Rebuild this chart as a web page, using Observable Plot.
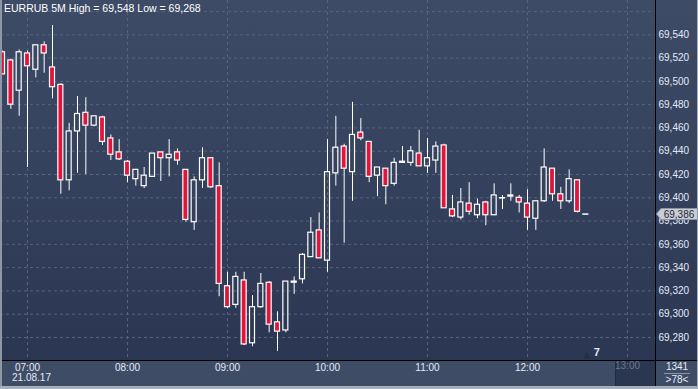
<!DOCTYPE html>
<html><head><meta charset="utf-8">
<script src="https://cdn.jsdelivr.net/npm/d3@7"></script>
<script src="https://cdn.jsdelivr.net/npm/@observablehq/plot@0.6"></script>
<style>
html,body{margin:0;padding:0;background:#2c3853;}
#wrap{position:relative;width:698px;height:389px;overflow:hidden;font-family:"Liberation Sans",Arial,sans-serif;}
.abs{position:absolute;}
</style></head>
<body>
<div id="wrap">
  <div class="abs" style="left:0;top:0;width:698px;height:360px;background:linear-gradient(#3e4b67,#2b3752);"></div>
  <div class="abs" style="left:0;top:361px;width:698px;height:25px;background:#3e4c66;"></div>
  <div class="abs" style="left:615px;top:361px;width:40px;height:25px;background:#2b3651;border-left:1px solid #1f2940;"></div>
  <div id="chart" class="abs" style="left:0;top:0;"></div>
  <div class="abs" style="left:0;top:360px;width:698px;height:1px;background:#000;"></div>
  <div class="abs" style="left:655px;top:0;width:1px;height:386px;background:#000;"></div>
  <div class="abs" style="left:0;top:0;width:2px;height:389px;background:#8f97a4;"></div>
  <div class="abs" style="left:697px;top:0;width:1px;height:389px;background:#a7afbb;"></div>
  <div class="abs" style="left:0;top:386px;width:698px;height:3px;background:#a7afbb;"></div>
  <div class="abs" style="left:4px;top:2px;font-size:10.5px;line-height:12px;color:#ffffff;white-space:nowrap;">EURRUB 5M High = 69,548 Low = 69,268</div>
  <div class="abs" style="left:656px;top:361px;width:42px;text-align:center;font-size:10px;line-height:12px;color:#e6ecf7;">1341</div>
  <div class="abs" style="left:664px;top:373px;width:26px;height:1px;background:#8a94a8;"></div>
  <div class="abs" style="left:656px;top:374px;width:42px;text-align:center;font-size:10px;line-height:12px;color:#e6ecf7;">&gt;78&lt;</div>
  <div id="marker" class="abs"></div>
</div>
<script>
// candles: 5-minute EURRUB, first candle 06:45
const startTime = Date.UTC(2017, 7, 21, 6, 45);
const opens  = [69.525,69.518,69.492,69.524,69.510,69.531,69.512,69.497,69.415,69.457,69.473,69.462,69.469,69.451,69.439,69.431,69.416,69.410,69.418,69.439,69.434,69.439,69.424,69.379,69.415,69.434,69.410,69.324,69.308,69.329,69.275,69.306,69.327,69.293,69.286,69.327,69.330,69.349,69.372,69.346,69.421,69.444,69.422,69.456,69.448,69.419,69.425,69.412,69.430,69.430,69.438,69.427,69.432,69.445,69.390,69.383,69.395,69.385,69.396,69.385,69.400,69.401,69.400,69.395,69.382,69.397,69.425,69.403,69.397,69.415,69.386];
const highs  = [69.526,69.519,69.527,69.526,69.531,69.534,69.548,69.498,69.464,69.487,69.486,69.470,69.470,69.454,69.450,69.432,69.424,69.426,69.438,69.439,69.450,69.442,69.424,69.418,69.443,69.434,69.430,69.336,69.336,69.336,69.316,69.335,69.328,69.302,69.328,69.332,69.352,69.383,69.387,69.450,69.470,69.446,69.482,69.468,69.448,69.426,69.425,69.434,69.444,69.444,69.458,69.451,69.448,69.446,69.402,69.408,69.413,69.399,69.397,69.412,69.402,69.412,69.402,69.407,69.397,69.442,69.425,69.409,69.424,69.415,69.386];
const lows   = [69.506,69.476,69.470,69.426,69.503,69.507,69.485,69.403,69.406,69.421,69.420,69.461,69.445,69.432,69.432,69.413,69.410,69.408,69.418,69.414,69.418,69.428,69.379,69.372,69.408,69.408,69.315,69.305,69.305,69.273,69.272,69.305,69.284,69.268,69.284,69.317,69.326,69.349,69.348,69.336,69.410,69.361,69.397,69.449,69.413,69.401,69.394,69.410,69.430,69.427,69.427,69.421,69.421,69.391,69.383,69.381,69.385,69.382,69.376,69.385,69.390,69.397,69.387,69.372,69.372,69.396,69.397,69.390,69.395,69.387,69.386];
const closes = [69.506,69.480,69.525,69.513,69.531,69.524,69.495,69.415,69.457,69.472,69.462,69.470,69.448,69.437,69.433,69.419,69.424,69.419,69.438,69.434,69.437,69.432,69.381,69.415,69.434,69.409,69.326,69.306,69.332,69.274,69.306,69.326,69.291,69.285,69.328,69.328,69.351,69.370,69.348,69.422,69.443,69.425,69.454,69.451,69.418,69.426,69.410,69.430,69.431,69.440,69.427,69.434,69.444,69.391,69.384,69.396,69.388,69.394,69.385,69.402,69.400,69.402,69.396,69.383,69.397,69.426,69.403,69.397,69.416,69.388,69.386];
const yTickValues = [69.28,69.30,69.32,69.34,69.36,69.38,69.40,69.42,69.44,69.46,69.48,69.50,69.52,69.54];
const yGridValues = [69.28,69.30,69.32,69.34,69.36,69.38,69.40,69.42,69.44,69.46,69.48,69.50,69.52,69.54,69.56];
const hourLabels = ["07:00","08:00","09:00","10:00","11:00","12:00"];
const dateLabel = "21.08.17";
const lastPrice = 69.386;

const fmtPrice = v => d3.format(".3f")(v).replace(".", ",");
const data = opens.map((o, i) => ({
  t: new Date(startTime + i * 5 * 60000),
  o, h: highs[i], l: lows[i], c: closes[i]
}));
const bodies = data.filter(d => d.o !== d.c);
const dojis = data.filter(d => d.o === d.c);
const hours = d3.range(7, 14).map(h => new Date(Date.UTC(2017, 7, 21, h, 0)));
const half = 90000;
const gridColor = "#56637f";

const chart = Plot.plot({
  width: 698, height: 389,
  marginLeft: 0, marginRight: 43, marginTop: 0, marginBottom: 29,
  style: {background: "transparent", fontFamily: "Liberation Sans, Arial, sans-serif", fontSize: "10px", color: "#e3eaf7", overflow: "visible"},
  x: {type: "utc", domain: [new Date(Date.UTC(2017,7,21,6,43,48)), new Date(Date.UTC(2017,7,21,13,16,48))]},
  y: {domain: [69.2602, 69.5695]},
  marks: [
    Plot.gridY(yGridValues, {stroke: gridColor, strokeOpacity: 1, strokeDasharray: "3,3"}),
    Plot.gridX(hours, {stroke: gridColor, strokeOpacity: 1, strokeDasharray: "3,3"}),
    Plot.axisY(yTickValues, {anchor: "right", tickSize: 0, tickPadding: 3, tickFormat: fmtPrice, label: null, fill: "#e3eaf7"}),
    Plot.axisX(hours.slice(0, 6), {anchor: "bottom", tickSize: 0, tickPadding: 3, tickFormat: (d, i) => hourLabels[i], label: null, fill: "#e3eaf7"}),
    Plot.text([hours[0]], {x: d => d, frameAnchor: "bottom", dy: 20, dx: 4, text: () => dateLabel, fill: "#e3eaf7"}),
    Plot.text([hours[6]], {x: d => d, frameAnchor: "bottom", dy: 8, text: () => "13:00", fill: "#6b7791"}),
    Plot.ruleX(data, {x: "t", y1: d => Math.max(d.o, d.c), y2: "h", stroke: "#ffffff", strokeWidth: 1}),
    Plot.ruleX(data, {x: "t", y1: "l", y2: d => Math.min(d.o, d.c), stroke: "#ffffff", strokeWidth: 1}),
    Plot.rect(bodies, {
      x1: d => new Date(+d.t - half), x2: d => new Date(+d.t + half),
      y1: "o", y2: "c",
      fill: d => d.c < d.o ? "#e2143c" : "none",
      stroke: "#ffffff", strokeWidth: 1.2
    }),
    Plot.ruleY(dojis, {y: "c", x1: d => new Date(+d.t - half - 20000), x2: d => new Date(+d.t + half + 20000), stroke: "#ffffff", strokeWidth: 1.5}),
    Plot.text([data[data.length - 1]], {x: "t", frameAnchor: "bottom", dy: -5, dx: 11, text: () => "7", fill: "#e3eaf7", fontSize: 11, fontWeight: "bold"}),
    Plot.dot([data[data.length - 1]], {x: "t", frameAnchor: "bottom", dy: -4, dx: 1, symbol: "triangle", r: 2.5, fill: "#242d42", stroke: "none"})
  ]
});
document.getElementById("chart").appendChild(chart);

const yPix = chart.scale("y").apply(lastPrice);
const m = document.getElementById("marker");
m.style.left = "656px";
m.style.top = (yPix - 6) + "px";
m.innerHTML = `<svg width="42" height="12" style="display:block"><path d="M0.5,6 L5,0.5 L41.5,0.5 L41.5,11.5 L5,11.5 Z" fill="#c9cdd5" stroke="#8f96a3"/><text x="23" y="9.5" text-anchor="middle" font-size="10" font-family="Liberation Sans, Arial" fill="#1e2535">${fmtPrice(lastPrice)}</text></svg>`;
</script>
</body></html>
